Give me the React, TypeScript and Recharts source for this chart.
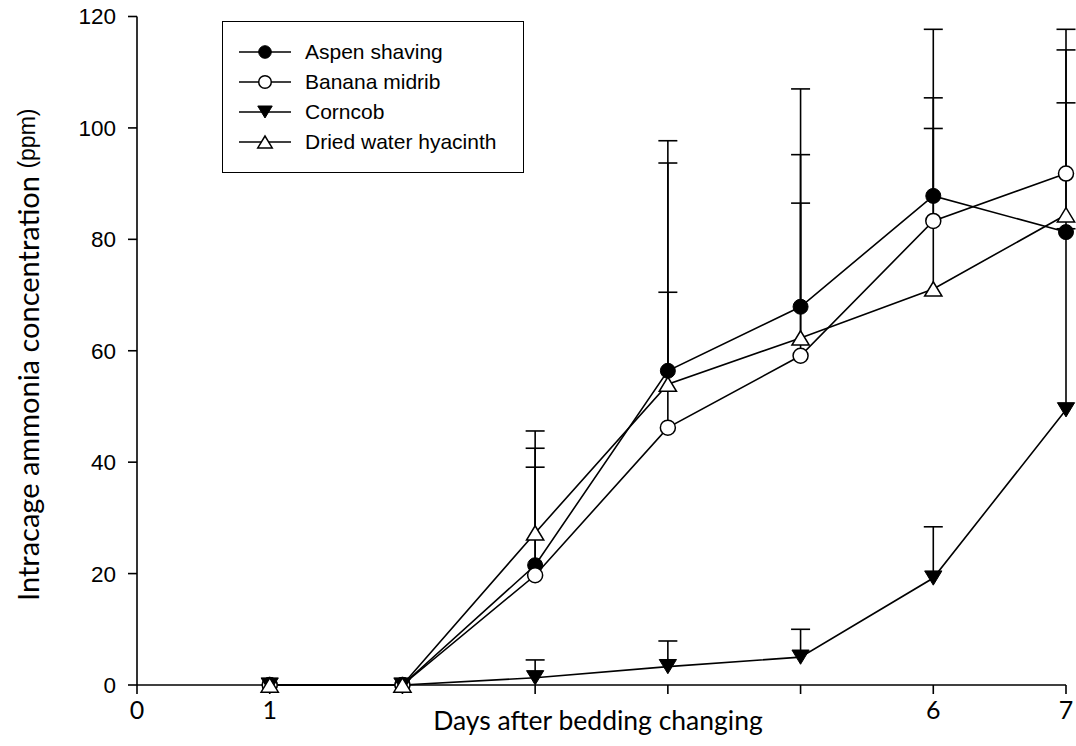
import { ComposedChart, Line, Scatter, XAxis, YAxis, ErrorBar, Legend } from 'recharts';

// days after bedding change
const days = [1, 2, 3, 4, 5, 6, 7];

// mean intracage ammonia (ppm)
const aspen = [0, 0, 21.5, 56.4, 67.9, 87.8, 81.3];
const banana = [0, 0, 19.7, 46.2, 59.1, 83.3, 91.8];
const corncob = [0, 0, 1.3, 3.3, 5.0, 19.2, 49.4];
const hyacinth = [0, 0, 27.3, 54.0, 62.3, 71.1, 84.4];

// upper error (SD), drawn upward only
const aspenErr = [0, 0, 17.6, 41.3, 39.1, 29.9, 23.2];
const bananaErr = [0, 0, 22.8, 24.3, 27.4, 22.1, 25.9];
const corncobErr = [0, 0, 3.2, 4.6, 5.0, 9.2, 32.5];
const hyacinthErr = [0, 0, 18.3, 39.7, 32.9, 28.8, 29.6];

const xTicks = [0, 1, 2, 3, 4, 5, 6, 7];
const xTickLabels = ['0', '1', '', '', '', '', '6', '7'];
const yTicks = [0, 20, 40, 60, 80, 100, 120];

const seriesKeys = ['aspen', 'banana', 'corncob', 'hyacinth'];
const seriesNames = ['Aspen shaving', 'Banana midrib', 'Corncob', 'Dried water hyacinth'];
const seriesValues = [aspen, banana, corncob, hyacinth];
const seriesErrors = [aspenErr, bananaErr, corncobErr, hyacinthErr];

const data = days.map((day, i) => {
  const row: any = { day };
  seriesKeys.forEach((k, s) => {
    const v = seriesValues[s][i];
    const e = seriesErrors[s][i];
    row[k] = v;
    row[k + 'Err'] = e ? [0, e] : undefined;
    row[k + 'Top'] = e ? v + e : null;
  });
  return row;
});

const BLACK = '#000';

// marker shapes: filled circle, open circle, filled down triangle, open up triangle
function Marker({ kind, cx, cy, size = 7.5 }: { kind: number; cx: number; cy: number; size?: number }) {
  if (cx == null || cy == null || isNaN(cx) || isNaN(cy)) return <g />;
  if (kind === 0) return <circle cx={cx} cy={cy} r={size} fill={BLACK} stroke={BLACK} strokeWidth={1} />;
  if (kind === 1) return <circle cx={cx} cy={cy} r={size} fill="#fff" stroke={BLACK} strokeWidth={1.5} />;
  const h = size * 1.9;
  const w = size * 1.15;
  if (kind === 2) {
    const pts = `${cx - w},${cy - h / 2} ${cx + w},${cy - h / 2} ${cx},${cy + h / 2}`;
    return <polygon points={pts} fill={BLACK} stroke={BLACK} strokeWidth={1} />;
  }
  const pts = `${cx - w},${cy + h / 2} ${cx + w},${cy + h / 2} ${cx},${cy - h / 2}`;
  return <polygon points={pts} fill="#fff" stroke={BLACK} strokeWidth={1.5} />;
}

function Cap(props: any) {
  const { cx, cy, payload, dataKey } = props;
  if (!payload || payload[dataKey] == null || cx == null || cy == null) return <g />;
  return <line x1={cx - 9.5} x2={cx + 9.5} y1={cy} y2={cy} stroke={BLACK} strokeWidth={1.6} />;
}

function YTitle(props: any) {
  const vb = props.viewBox || {};
  const x = vb.x + 14;
  const y = vb.y + vb.height / 2 + 4;
  return (
    <text
      x={x}
      y={y}
      transform={`rotate(-90, ${x}, ${y})`}
      textAnchor="middle"
      dominantBaseline="central"
      fill={BLACK}
      style={{ fontFamily: 'Lato, sans-serif', fontSize: 29 }}
    >
      Intracage ammonia concentration{' '}
      <tspan style={{ fontFamily: '"Liberation Sans", Arial, sans-serif', fontSize: 23 }}>(ppm)</tspan>
    </text>
  );
}

function XTitle(props: any) {
  const vb = props.viewBox || {};
  return (
    <text
      x={598}
      y={vb.y + 35}
      textAnchor="middle"
      dominantBaseline="central"
      fill={BLACK}
      style={{ fontFamily: 'Lato, sans-serif', fontSize: 26.5 }}
    >
      Days after bedding changing
    </text>
  );
}

const renderLegend = () => (
  <div
    style={{
      border: '1.5px solid #000',
      background: '#fff',
      width: 302,
      height: 152,
      boxSizing: 'border-box',
      paddingTop: 15,
      paddingLeft: 16,
    }}
  >
    {seriesNames.map((name, i) => (
      <div key={name} style={{ display: 'flex', alignItems: 'center', height: 30 }}>
        <svg width={52} height={22}>
          <line x1={0} x2={52} y1={11} y2={11} stroke={BLACK} strokeWidth={1.5} />
          <Marker kind={i} cx={26} cy={11} size={6.3} />
        </svg>
        <span
          style={{
            marginLeft: 14,
            fontFamily: '"Liberation Sans", Arial, sans-serif',
            fontSize: 21,
            color: BLACK,
            lineHeight: '22px',
          }}
        >
          {name}
        </span>
      </div>
    ))}
  </div>
);

export default function App() {
  return (
    <div style={{ width: 1076, height: 746, overflow: 'hidden' }}>
      <style>{'html, body { margin: 0; overflow: hidden; }'}</style>
      <ComposedChart width={1076} height={746} data={data} margin={{ top: 16.5, right: 10, bottom: 1, left: 13 }}>
        <XAxis
          dataKey="day"
          type="number"
          domain={[0, 7]}
          ticks={xTicks}
          tickFormatter={(v: number) => xTickLabels[xTicks.indexOf(v)] ?? ''}
          allowDecimals={false}
          height={60}
          stroke={BLACK}
          strokeWidth={1.6}
          tickSize={9}
          tickMargin={7}
          tick={{ fill: BLACK, fontSize: 25, fontFamily: 'Lato, sans-serif' }}
          label={<XTitle />}
        />
        <YAxis
          type="number"
          domain={[0, 120]}
          ticks={yTicks}
          width={124}
          stroke={BLACK}
          strokeWidth={1.6}
          tickSize={9}
          tickMargin={12}
          tick={{ fill: BLACK, fontSize: 22.5, fontFamily: '"Liberation Sans", Arial, sans-serif' }}
          label={<YTitle />}
        />
        <Legend
          layout="vertical"
          align="center"
          verticalAlign="middle"
          content={renderLegend}
          wrapperStyle={{ left: 222, top: 21, width: 302, height: 152 }}
        />
        {seriesKeys.map((k, s) => (
          <Line
            key={k}
            dataKey={k}
            name={seriesNames[s]}
            type="linear"
            stroke={BLACK}
            strokeWidth={1.6}
            isAnimationActive={false}
            dot={(p: any) => <Marker key={`${k}-${p.index}`} kind={s} cx={p.cx} cy={p.cy} />}
            activeDot={false}
          >
            <ErrorBar dataKey={k + 'Err'} direction="y" width={0} stroke={BLACK} strokeWidth={1.6} isAnimationActive={false} />
          </Line>
        ))}
        {seriesKeys.map((k) => (
          <Scatter
            key={k + 'Top'}
            dataKey={k + 'Top'}
            legendType="none"
            isAnimationActive={false}
            shape={(p: any) => <Cap {...p} dataKey={k + 'Top'} />}
          />
        ))}
      </ComposedChart>
    </div>
  );
}
